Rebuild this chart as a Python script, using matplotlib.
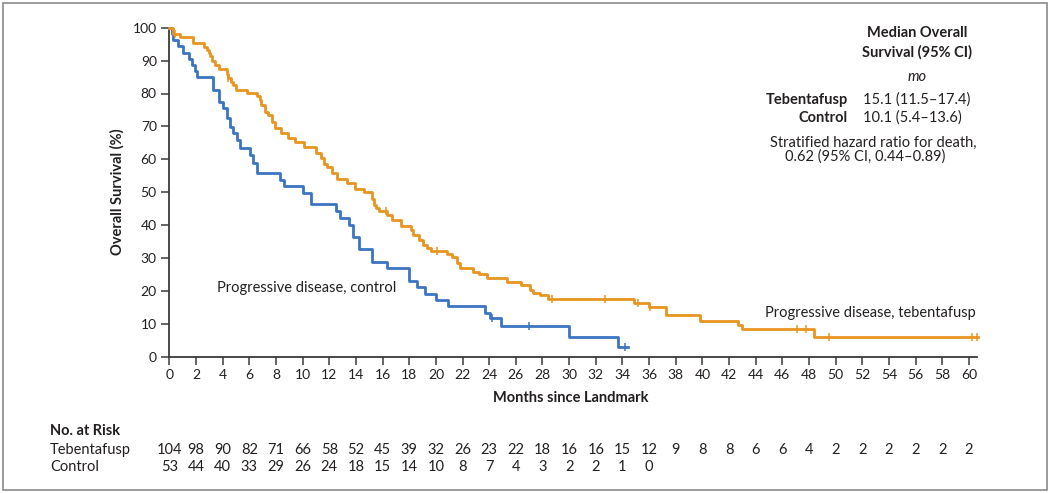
import matplotlib
matplotlib.use("Agg")
import matplotlib.pyplot as plt
import matplotlib.transforms as mtransforms
from matplotlib.patches import Rectangle
import numpy as np

plt.rcParams["font.family"] = ["Lato", "DejaVu Sans"]

W, H = 1050, 493

# Kaplan-Meier steps (months, survival %)
teb_t = [0, 0.3, 0.8, 1.75, 2.6, 2.8, 2.95, 3.05, 3.2, 3.4, 3.7, 4.3, 4.4, 4.6,
         4.75, 5.0, 5.8, 6.6, 6.8, 6.9, 7.2, 7.4, 7.7, 7.9, 8.4, 8.9, 9.4, 10.1,
         11.0, 11.4, 11.6, 11.8, 12.2, 12.6, 13.3, 13.9, 14.6, 15.2, 15.35, 15.5,
         15.7, 16.3, 16.7, 17.4, 18.1, 18.3, 18.7, 19.0, 19.3, 19.6, 20.8, 21.2,
         21.6, 21.8, 22.8, 23.2, 23.8, 25.3, 26.4, 27.1, 27.3, 27.8, 28.4, 34.9,
         36.0, 37.3, 39.8, 42.7, 43.0, 48.4, 60.7]
teb_s = [100, 98.1, 97.1, 95.2, 94.2, 93.3, 92.3, 91.3, 89.9, 88.7, 87.4, 86.0,
         84.6, 83.6, 82.6, 81.1, 80.3, 79.3, 78.0, 76.5, 74.5, 73.4, 71.4, 69.6,
         67.9, 66.4, 65.4, 63.8, 61.8, 60.3, 58.5, 57.6, 55.7, 53.9, 52.9, 51.0,
         50.0, 48.0, 46.1, 45.1, 44.2, 43.1, 41.5, 39.7, 38.5, 37.0, 35.5, 34.0,
         32.9, 32.1, 31.1, 30.2, 28.4, 26.9, 25.8, 25.1, 23.8, 22.8, 21.8, 20.3,
         19.3, 18.8, 17.5, 16.4, 15.2, 12.7, 10.9, 9.6, 8.3, 6.1, 6.1]
teb_cens = [0.4, 4.4, 16.25, 20.1, 28.75, 32.7, 35.2, 36.1, 47.1, 47.8, 49.5,
            60.2, 60.6]

ctrl_t = [0, 0.2, 0.3, 0.68, 1.0, 1.5, 1.68, 1.93, 2.05, 3.3, 3.7, 4.05, 4.3,
          4.55, 4.8, 5.05, 5.3, 6.05, 6.3, 6.55, 8.3, 8.6, 10.0, 10.6, 12.5,
          12.8, 13.5, 13.76, 14.25, 15.2, 16.3, 18.0, 18.6, 19.2, 20.0, 20.9,
          23.7, 24.06, 24.9, 30.0, 33.7, 34.4]
ctrl_s = [100, 98.1, 96.2, 94.3, 92.4, 90.6, 88.7, 86.8, 84.9, 81.1, 77.4, 75.5,
          72.5, 69.9, 67.9, 65.9, 63.3, 61.3, 58.8, 55.7, 53.7, 52.0, 49.8, 46.3,
          44.2, 42.3, 40.0, 36.3, 32.6, 28.9, 26.9, 23.1, 21.2, 19.2, 17.2, 15.4,
          13.4, 11.7, 9.3, 6.1, 3.0, 3.0]
ctrl_cens = [24.2, 27.0, 34.2]

risk_months = list(range(0, 61, 2))
risk_teb = [104, 98, 90, 82, 71, 66, 58, 52, 45, 39, 32, 26, 23, 22, 18, 16, 16,
            15, 12, 9, 8, 8, 6, 6, 4, 2, 2, 2, 2, 2, 2]
risk_ctrl = [53, 44, 40, 33, 29, 26, 24, 18, 15, 14, 10, 8, 7, 4, 3, 2, 2, 1, 0]

ORANGE = "#E8951F"
BLUE = "#3B74C2"
INK = "#231F20"


def step_at(ts, ss, x):
    i = np.searchsorted(ts, x, side="right") - 1
    return np.asarray(ss)[i]


def fx(px):
    return px / W


def fy(py):
    return 1 - py / H


fig = plt.figure(figsize=(W / 100, H / 100), dpi=100)
fig.patches.append(Rectangle((fx(3), fy(490)), fx(1044), 487 / H,
                             transform=fig.transFigure, fill=False,
                             edgecolor="#8a8a8a", linewidth=1.2))

ax = fig.add_axes([fx(169.3), fy(356.7), fx(977 - 169.3), (356.7 - 27.7) / H])
ax.set_xlim(0, 60.6)
ax.set_ylim(0, 100)

for ts, ss, cens, col in [(ctrl_t, ctrl_s, ctrl_cens, BLUE),
                          (teb_t, teb_s, teb_cens, ORANGE)]:
    ax.step(ts, ss, where="post", color=col, linewidth=2.0, clip_on=False,
            zorder=3)
    ax.plot(cens, [step_at(ts, ss, c) for c in cens], linestyle="none",
            marker="|", markersize=6, markeredgewidth=1.1, color=col,
            clip_on=False, zorder=4)

for side in ["top", "right"]:
    ax.spines[side].set_visible(False)
for side in ["left", "bottom"]:
    ax.spines[side].set_color("#3a3a3a")
    ax.spines[side].set_linewidth(1.3)
ax.set_xticks(risk_months)
ax.set_yticks(range(0, 101, 10))
ax.tick_params(length=6, width=1.1, color="#3a3a3a", labelsize=10,
               labelcolor=INK, pad=3)

ax.text(3.6, 20.9, "Progressive disease, control", fontsize=10.5, color=INK,
        va="center", ha="left")
ax.text(44.7, 13.2, "Progressive disease, tebentafusp", fontsize=10.5,
        color=INK, va="center", ha="left")

fig.text(fx(117), fy(192), "Overall Survival (%)", rotation=90, ha="center",
         va="center", fontsize=10.5, fontweight="bold", color=INK)
fig.text(fx(571), fy(398), "Months since Landmark", ha="center", va="center",
         fontsize=10.5, fontweight="bold", color=INK)

# median survival block
fig.text(fx(917), fy(33), "Median Overall", ha="center", va="center",
         fontsize=10.5, fontweight="bold", color=INK)
fig.text(fx(917), fy(52), "Survival (95% CI)", ha="center", va="center",
         fontsize=10.5, fontweight="bold", color=INK)
fig.text(fx(917), fy(77), "mo", ha="center", va="center", fontsize=10.5,
         style="italic", color=INK)
fig.text(fx(848), fy(100), "Tebentafusp", ha="right", va="center",
         fontsize=10.5, fontweight="bold", color=INK)
fig.text(fx(863), fy(100), "15.1 (11.5\u201317.4)", ha="left", va="center",
         fontsize=10.5, color=INK)
fig.text(fx(848), fy(118), "Control", ha="right", va="center", fontsize=10.5,
         fontweight="bold", color=INK)
fig.text(fx(863), fy(118), "10.1 (5.4\u201313.6)", ha="left", va="center",
         fontsize=10.5, color=INK)
fig.text(fx(770), fy(143), "Stratified hazard ratio for death,", ha="left",
         va="center", fontsize=10.5, color=INK)
fig.text(fx(785), fy(157), "0.62 (95% CI, 0.44\u20130.89)", ha="left",
         va="center", fontsize=10.5, color=INK)

# number at risk
trans = mtransforms.blended_transform_factory(ax.transData, fig.transFigure)
fig.text(fx(50), fy(431), "No. at Risk", ha="left", va="center",
         fontsize=10.5, fontweight="bold", color=INK)
fig.text(fx(50), fy(450), "Tebentafusp", ha="left", va="center",
         fontsize=10.5, color=INK)
fig.text(fx(50), fy(467), "Control", ha="left", va="center", fontsize=10.5,
         color=INK)
for m, n in zip(risk_months, risk_teb):
    ax.text(m, fy(450), str(n), transform=trans, ha="center", va="center",
            fontsize=10.5, color=INK)
for m, n in zip(risk_months, risk_ctrl):
    ax.text(m, fy(467), str(n), transform=trans, ha="center", va="center",
            fontsize=10.5, color=INK)

fig.savefig("out.png", dpi=100)
